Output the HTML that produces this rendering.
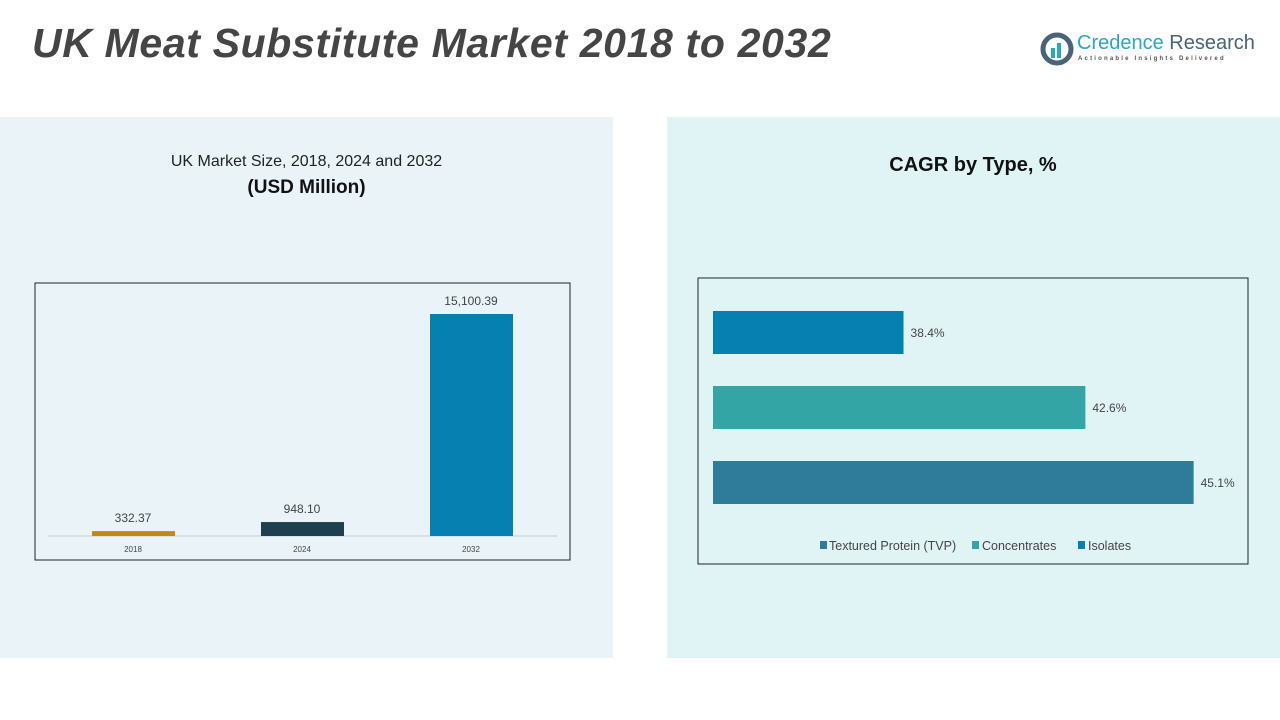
<!DOCTYPE html>
<html><head><meta charset="utf-8"><style>
body{margin:0;width:1280px;height:720px;background:#fff;font-family:"Liberation Sans",sans-serif;position:relative;overflow:hidden}
.abs{position:absolute}
</style></head><body>
<div class="abs" style="left:32px;top:20px;font-size:41px;font-weight:bold;font-style:italic;color:#454545;letter-spacing:0.65px">UK Meat Substitute Market 2018 to 2032</div>
<div class="abs" style="left:1040px;top:30px;width:215px;height:40px">
<svg width="34" height="34" style="position:absolute;left:0;top:2px"><circle cx="17" cy="17" r="14" fill="none" stroke="#4a6378" stroke-width="5"/><rect x="11" y="16" width="4" height="10" fill="#2aa7c4"/><rect x="17" y="11" width="4" height="15" fill="#2aa7c4"/></svg>
<div style="position:absolute;left:37px;top:2px;font-size:20px;color:#2aa7c4">Credence <span style="color:#4a6378">Research</span></div>
<div style="position:absolute;left:38px;top:26px;font-size:6px;letter-spacing:2.2px;color:#555;font-weight:bold">Actionable Insights Delivered</div>
</div>
<div class="abs" style="left:0;top:117px;width:613px;height:541px;background:#e9f3f8"></div>
<div class="abs" style="left:667px;top:117px;width:613px;height:541px;background:#e1f4f5"></div>
<div class="abs" style="left:100px;top:153px;width:413px;text-align:center;font-size:16px;color:#222">UK Market Size, 2018, 2024 and 2032</div>
<div class="abs" style="left:100px;top:177px;width:413px;text-align:center;font-size:19px;font-weight:bold;color:#111">(USD Million)</div>
<div class="abs" style="left:800px;top:154px;width:346px;text-align:center;font-size:20px;font-weight:bold;color:#111">CAGR by Type, %</div>
<svg class="abs" style="left:0;top:0" width="1280" height="720" id="svg">
<rect x="35" y="283" width="535" height="277" fill="none" stroke="#222" stroke-width="1"/>
<line x1="48" y1="536" x2="557" y2="536" stroke="#ccc"/>
<rect x="698" y="278" width="550" height="286" fill="none" stroke="#222" stroke-width="1"/>
<g id="left"></g><g id="right"></g>
<g font-size="12.5" fill="#444">
<rect x="820" y="541" width="7" height="8" fill="#2e7b9a"/><text x="829" y="550">Textured Protein (TVP)</text>
<rect x="972" y="541" width="7" height="8" fill="#33a5a5"/><text x="982" y="550">Concentrates</text>
<rect x="1078" y="541" width="7" height="8" fill="#0580b0"/><text x="1088" y="550">Isolates</text>
</g>
</svg>
<script>
const years=["2018","2024","2032"];
const sizes=[332.37,948.10,15100.39];
const sizeLabels=["332.37","948.10","15,100.39"];
const types=["Isolates","Concentrates","Textured Protein (TVP)"];
const cagr=[38.4,42.6,45.1];
const NS="http://www.w3.org/2000/svg";
const colL=["#c08a10","#1d3f4f","#0580b0"];
const colR=["#0580b0","#33a5a5","#2e7b9a"];
const yL=v=>536-v*(222/15100.39);
const xC=i=>133+i*169;
const L=document.getElementById('left');
years.forEach((y,i)=>{
 const r=document.createElementNS(NS,'rect');
 
 
 r.setAttribute('x',xC(i)-41);r.setAttribute('width',83);
 r.setAttribute('y',yL(sizes[i]));r.setAttribute('height',536-yL(sizes[i]));r.setAttribute('fill',colL[i]);L.appendChild(r);
 const t=document.createElementNS(NS,'text');
 
 
 t.setAttribute('x',xC(i));t.setAttribute('y',yL(sizes[i])-9);t.setAttribute('text-anchor','middle');t.setAttribute('font-size','12');t.setAttribute('fill','#444');t.textContent=sizeLabels[i];L.appendChild(t);
 const k=document.createElementNS(NS,'text');
 
 
 k.setAttribute('x',xC(i));k.setAttribute('y',552);k.setAttribute('text-anchor','middle');k.setAttribute('font-size','8');k.setAttribute('fill','#444');k.textContent=y;L.appendChild(k);
});
const xR=v=>713+(v-34)*43.3;
const yR=i=>311+i*75;
const R=document.getElementById('right');
types.forEach((ty,i)=>{
 const r=document.createElementNS(NS,'rect');
 
 
 r.setAttribute('x',713);r.setAttribute('y',yR(i));r.setAttribute('height',43);r.setAttribute('width',xR(cagr[i])-713);r.setAttribute('fill',colR[i]);R.appendChild(r);
 const t=document.createElementNS(NS,'text');
 
 
 t.setAttribute('x',xR(cagr[i])+7);t.setAttribute('y',yR(i)+26);t.setAttribute('font-size','12');t.setAttribute('fill','#444');t.textContent=cagr[i].toFixed(1)+'%';R.appendChild(t);
});
</script>
</body></html>
